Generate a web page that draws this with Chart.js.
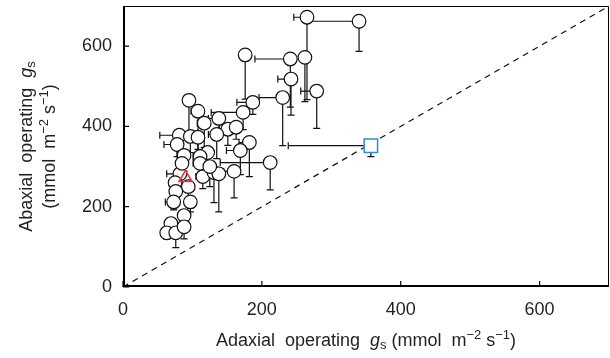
<!DOCTYPE html>
<html>
<head>
<meta charset="utf-8">
<script src="https://cdn.jsdelivr.net/npm/chart.js@4"></script>
<style>
  html, body { margin: 0; padding: 0; background: #fff; }
  #wrap { width: 610px; height: 358px; }
</style>
</head>
<body>
<div id="wrap"><canvas id="chart" width="610" height="358"></canvas></div>
<script>
// data (mmol m-2 s-1)
const adaxial = [265, 340, 176, 241, 262, 242, 279, 230, 187, 173, 95, 108, 138, 117, 151, 163, 81, 78, 97, 108, 135, 182, 169, 88, 122, 111, 212, 82, 115, 131, 138, 160, 85, 111, 125, 75, 94, 76, 73, 97, 88, 69, 63, 76, 88];
const abaxial = [672, 662, 578, 568, 572, 518, 488, 472, 460, 435, 465, 438, 420, 408, 393, 398, 378, 355, 375, 373, 380, 360, 340, 328, 335, 325, 310, 282, 275, 285, 282, 288, 308, 308, 300, 260, 250, 238, 212, 212, 178, 158, 135, 135, 150];
// one-sided error bars: x goes left, y goes down
const adaxialErr = [19, 75, 0, 51, 0, 19, 23, 34, 23, 46, 8, 10, 15, 10, 12, 20, 28, 19, 10, 8, 12, 15, 20, 10, 12, 10, 72, 19, 10, 12, 15, 15, 8, 10, 10, 8, 8, 8, 12, 8, 6, 6, 5, 5, 5];
const abaxialErr = [205, 75, 110, 120, 110, 90, 93, 120, 30, 43, 93, 95, 40, 60, 40, 30, 30, 30, 40, 50, 60, 85, 60, 40, 50, 45, 68, 30, 30, 75, 95, 66, 30, 40, 50, 25, 30, 25, 20, 25, 25, 20, 15, 37, 30];

const triX = [90], triY = [272];
const sqX = [357], sqY = [352], sqXErr = [119], sqYErr = [27];

const axisMax = 700;
const tickVals = [0, 200, 400, 600];

function pts(xs, ys, xe, ye) {
  return xs.map((x, i) => ({ x: x, y: ys[i], xe: xe ? xe[i] : 0, ye: ye ? ye[i] : 0 }));
}

const FONT = '"Liberation Sans", Arial, Helvetica, sans-serif';

// error bars under the markers
const errorBars = {
  id: 'errorBars',
  beforeDatasetsDraw(chart) {
    const { ctx, scales: { x, y } } = chart;
    ctx.save();
    ctx.strokeStyle = '#111';
    ctx.lineWidth = 1.2;
    chart.data.datasets.forEach(ds => {
      if (!ds.errors) return;
      ds.data.forEach(p => {
        const px = x.getPixelForValue(p.x), py = y.getPixelForValue(p.y);
        const cap = 3.5;
        if (p.xe > 0) {
          const lx = x.getPixelForValue(p.x - p.xe);
          ctx.beginPath();
          ctx.moveTo(px, py); ctx.lineTo(lx, py);
          ctx.moveTo(lx, py - cap); ctx.lineTo(lx, py + cap);
          ctx.stroke();
        }
        if (p.ye > 0) {
          const ly = y.getPixelForValue(p.y - p.ye);
          ctx.beginPath();
          ctx.moveTo(px, py); ctx.lineTo(px, ly);
          ctx.moveTo(px - cap, ly); ctx.lineTo(px + cap, ly);
          ctx.stroke();
        }
      });
    });
    ctx.restore();
  }
};

// frame, inward ticks and the axis titles with sub/superscripts
function richText(ctx, parts, size) {
  let w = 0;
  parts.forEach(p => {
    const s = p.small ? size * 0.72 : size;
    ctx.font = (p.it ? 'italic ' : '') + s + 'px ' + FONT;
    p.w = ctx.measureText(p.t).width;
    w += p.w;
  });
  return w;
}
function drawRich(ctx, parts, size, x0, base) {
  let x = x0;
  parts.forEach(p => {
    const s = p.small ? size * 0.72 : size;
    ctx.font = (p.it ? 'italic ' : '') + s + 'px ' + FONT;
    ctx.fillText(p.t, x, base + (p.dy || 0));
    x += p.w;
  });
}

const frame = {
  id: 'frame',
  afterDraw(chart) {
    const { ctx, chartArea: a, scales: { x, y } } = chart;
    ctx.save();
    ctx.strokeStyle = '#000';
    ctx.lineWidth = 1;
    ctx.beginPath();
    ctx.moveTo(a.left, a.top + 0.5); ctx.lineTo(a.right - 0.5, a.top + 0.5); ctx.lineTo(a.right - 0.5, a.bottom);
    ctx.stroke();
    ctx.lineWidth = 2;
    ctx.beginPath();
    ctx.moveTo(a.left + 1, a.top); ctx.lineTo(a.left + 1, a.bottom - 1); ctx.lineTo(a.right, a.bottom - 1);
    ctx.stroke();
    ctx.lineWidth = 1.2;
    tickVals.forEach(v => {
      const px = x.getPixelForValue(v), py = y.getPixelForValue(v);
      ctx.beginPath();
      ctx.moveTo(px, a.bottom); ctx.lineTo(px, a.bottom - 6);
      ctx.moveTo(a.left, py); ctx.lineTo(a.left + 6, py);
      ctx.stroke();
    });

    ctx.fillStyle = '#231f20';
    ctx.textBaseline = 'alphabetic';
    const size = 18;
    const xt = [
      { t: 'Adaxial  operating  ' }, { t: 'g', it: true }, { t: 's', small: true, dy: 3 },
      { t: ' (mmol  m' }, { t: '\u22122', small: true, dy: -7 }, { t: ' s' }, { t: '\u22121', small: true, dy: -7 }, { t: ')' }
    ];
    const cx = (a.left + a.right) / 2;
    const w1 = richText(ctx, xt, size);
    drawRich(ctx, xt, size, cx - w1 / 2, 346);

    const cy = (a.top + a.bottom) / 2;
    const yt1 = [{ t: 'Abaxial  operating  ' }, { t: 'g', it: true }, { t: 's', small: true, dy: 3 }];
    const yt2 = [{ t: '(mmol  m' }, { t: '\u22122', small: true, dy: -7 }, { t: ' s' }, { t: '\u22121', small: true, dy: -7 }, { t: ')' }];
    ctx.translate(0, cy);
    ctx.rotate(-Math.PI / 2);
    const w2 = richText(ctx, yt1, size);
    drawRich(ctx, yt1, size, -w2 / 2, 32);
    const w3 = richText(ctx, yt2, size);
    drawRich(ctx, yt2, size, -w3 / 2, 55);
    ctx.restore();
  }
};

new Chart(document.getElementById('chart'), {
  type: 'scatter',
  data: {
    datasets: [
      {
        label: 'circles',
        data: pts(adaxial, abaxial, adaxialErr, abaxialErr),
        errors: true,
        pointStyle: 'circle',
        pointRadius: 6.8,
        backgroundColor: '#fff',
        borderColor: '#111',
        borderWidth: 1.2,
        order: 3
      },
      {
        label: 'triangle',
        data: pts(triX, triY),
        pointStyle: 'triangle',
        pointRadius: 7.5,
        backgroundColor: 'rgba(255,255,255,0)',
        borderColor: '#e8343f',
        borderWidth: 1.6,
        order: 1
      },
      {
        label: 'square',
        data: pts(sqX, sqY, sqXErr, sqYErr),
        errors: true,
        pointStyle: 'rect',
        pointRadius: 9.5,
        backgroundColor: '#fff',
        borderColor: '#2b8fd0',
        borderWidth: 1.5,
        order: 2
      },
      {
        type: 'line',
        label: '1:1',
        data: [{ x: 0, y: 0 }, { x: axisMax, y: axisMax }],
        borderColor: '#111',
        borderWidth: 1.2,
        borderDash: [6, 5],
        pointRadius: 0,
        fill: false,
        order: 5
      }
    ]
  },
  options: {
    responsive: false,
    animation: false,
    events: [],
    layout: { autoPadding: false, padding: { top: 6, right: 1, left: 0, bottom: 0 } },
    plugins: { legend: { display: false }, tooltip: { enabled: false } },
    scales: {
      x: {
        type: 'linear',
        min: 0, max: axisMax,
        afterBuildTicks(s) { s.ticks = tickVals.map(v => ({ value: v })); },
        afterFit(s) { s.height = 71; s.paddingLeft = 0; s.paddingRight = 0; },
        grid: { display: false, drawTicks: false },
        border: { display: false },
        ticks: { padding: 12, color: '#231f20', font: { size: 18, family: FONT } }
      },
      y: {
        type: 'linear',
        min: 0, max: axisMax,
        afterBuildTicks(s) { s.ticks = tickVals.map(v => ({ value: v })); },
        afterFit(s) { s.width = 123; s.paddingTop = 0; s.paddingBottom = 0; },
        grid: { display: false, drawTicks: false },
        border: { display: false },
        ticks: { padding: 11, color: '#231f20', font: { size: 18, family: FONT } }
      }
    }
  },
  plugins: [errorBars, frame]
});
</script>
</body>
</html>
